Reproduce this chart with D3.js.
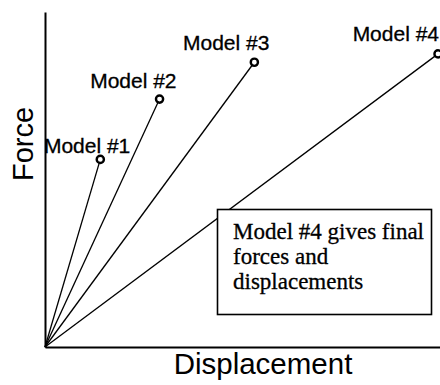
<!DOCTYPE html>
<html>
<head>
<meta charset="utf-8">
<script src="https://cdn.jsdelivr.net/npm/d3@7"></script>
<style>
  html, body { margin: 0; padding: 0; background: #fff; }
  svg { display: block; }
</style>
</head>
<body>
<svg></svg>
<script>
const models = ["Model #1", "Model #2", "Model #3", "Model #4"];
const displacement = [1.4, 2.9, 5.3, 9.95];
const force = [5.6, 7.4, 8.5, 8.75];
const noteLines = ["Model #4 gives final", "forces and", "displacements"];

const width = 440, height = 385;

const svg = d3.select("svg")
    .attr("width", width)
    .attr("height", height);

const x = d3.scaleLinear().domain([0, 10]).range([45, 440]);
const y = d3.scaleLinear().domain([0, 10]).range([347, 12]);

// axes, no ticks
svg.append("g")
    .attr("transform", "translate(0," + y(0) + ")")
    .call(d3.axisBottom(x).ticks(0).tickSizeOuter(0))
    .select(".domain").attr("stroke-width", 2);

svg.append("g")
    .attr("transform", "translate(" + x(0) + ",0)")
    .call(d3.axisLeft(y).ticks(0).tickSizeOuter(0))
    .select(".domain").attr("stroke-width", 2);

const pts = models.map(function(m, i) {
    return {name: m, dx: displacement[i], f: force[i]};
});

// lines from the origin
svg.append("g").selectAll("line")
    .data(pts)
    .join("line")
    .attr("x1", x(0))
    .attr("y1", y(0))
    .attr("x2", function(d) { return x(d.dx); })
    .attr("y2", function(d) { return y(d.f); })
    .attr("stroke", "#000")
    .attr("stroke-width", 1.3);

svg.append("g").selectAll("circle")
    .data(pts)
    .join("circle")
    .attr("cx", function(d) { return x(d.dx); })
    .attr("cy", function(d) { return y(d.f); })
    .attr("r", 3.6)
    .attr("fill", "#fff")
    .attr("stroke", "#000")
    .attr("stroke-width", 2.4);

// label offsets from each point (end of text, baseline)
const labelOffset = [[30, -6], [17, -11], [15, -12], [1, -13]];

svg.append("g").selectAll("text")
    .data(pts)
    .join("text")
    .attr("x", function(d, i) { return x(d.dx) + labelOffset[i][0]; })
    .attr("y", function(d, i) { return y(d.f) + labelOffset[i][1]; })
    .attr("text-anchor", "end")
    .style("font-family", "'Liberation Sans', Arial, sans-serif")
    .style("font-size", "21px")
    .style("stroke", "#000")
    .style("stroke-width", 0.3)
    .text(function(d) { return d.name; });

// note box
const box = svg.append("g");
box.append("rect")
    .attr("x", 217.5)
    .attr("y", 209.5)
    .attr("width", 214)
    .attr("height", 105)
    .attr("fill", "#fff")
    .attr("stroke", "#000")
    .attr("stroke-width", 1.6);

box.selectAll("text")
    .data(noteLines)
    .join("text")
    .attr("x", 233)
    .attr("y", function(d, i) { return 239 + i * 25; })
    .style("font-family", "'Liberation Serif', 'Times New Roman', serif")
    .style("font-size", "23px")
    .style("stroke", "#000")
    .style("stroke-width", 0.3)
    .text(function(d) { return d; });

// axis titles
svg.append("text")
    .attr("x", 263)
    .attr("y", 374)
    .attr("text-anchor", "middle")
    .style("font-family", "'Liberation Sans', Arial, sans-serif")
    .style("font-size", "29.5px")
    .text("Displacement");

svg.append("text")
    .attr("transform", "translate(33,144) rotate(-90)")
    .attr("text-anchor", "middle")
    .style("font-family", "'Liberation Sans', Arial, sans-serif")
    .style("font-size", "29px")
    .text("Force");
</script>
</body>
</html>
